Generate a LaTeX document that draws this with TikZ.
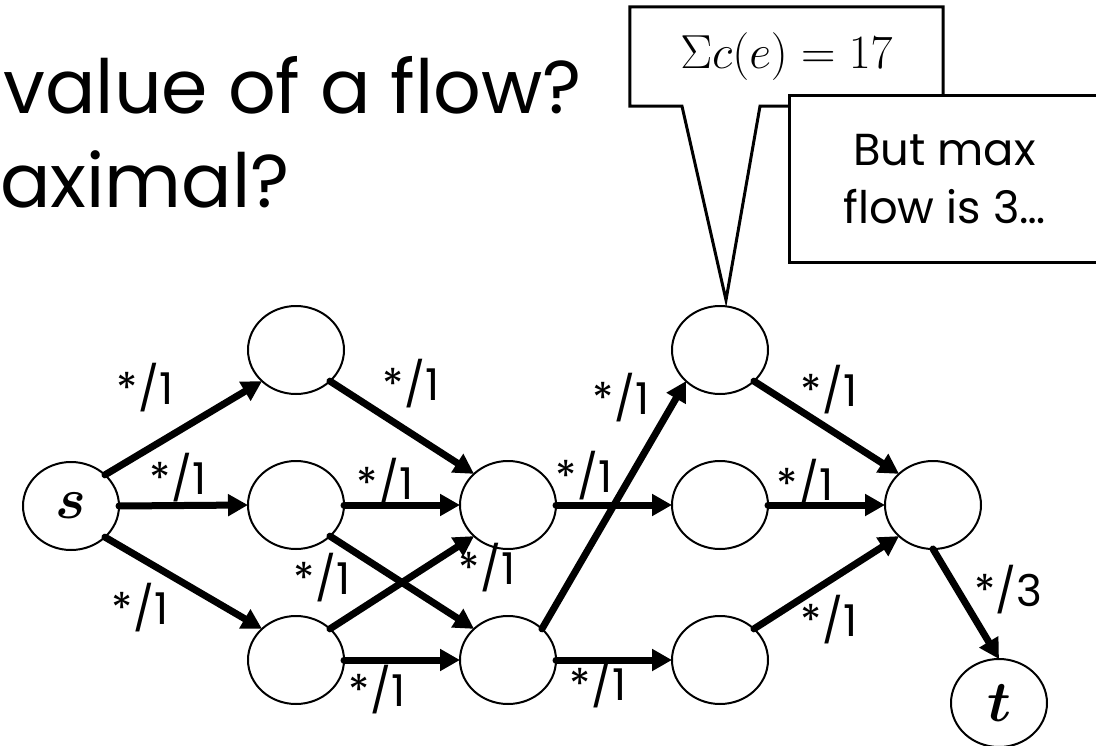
\RequirePackage{fix-cm}
\documentclass[tikz,border=0pt]{standalone}
\usepackage{amsmath}
\usepackage[no-math]{fontspec}
\setmainfont{Poppins}
\usetikzlibrary{arrows.meta,shapes.geometric,backgrounds}

\begin{document}
\begin{tikzpicture}[
  x=1bp, y=-1bp,
  vtx/.style={draw, ellipse, line width=2bp, fill=white, inner sep=0pt,
              outer sep=0pt, minimum width=96bp, minimum height=88bp},
  arr/.style={-{Triangle[length=20bp, width=21bp]}, line width=7bp,
              line cap=round},
  lbl/.style={font=\fontsize{44}{50}\selectfont, inner sep=0pt},
  ttl/.style={font=\fontsize{75}{90}\selectfont, inner sep=0pt,
              anchor=base west},
  callbox/.style={draw, line width=3bp, fill=white, inner sep=0pt,
                  align=center},
]
\def\lt#1{\fontsize{58}{60}\selectfont$\boldsymbol{#1}$}

\clip (0,0) rectangle (1096,746);

% ---------------- heading ------------------------------------------
\node[ttl] (q1) at (3,113) {value of a flow?};
\node[ttl] (q2) at (0,207) {aximal?};

% ---------------- vertices -----------------------------------------
\node[vtx] (s)  at (71,506)  {\lt{s}};
\node[vtx] (a1) at (296,350) {};
\node[vtx] (a2) at (296,505) {};
\node[vtx] (a3) at (296,660) {};
\node[vtx] (b1) at (508,505) {};
\node[vtx] (b2) at (508,660) {};
\node[vtx] (c1) at (720,350) {};
\node[vtx] (c2) at (720,505) {};
\node[vtx] (c3) at (720,660) {};
\node[vtx] (d)  at (933,505) {};
\node[vtx] (t)  at (999,703) {\lt{t}};

% ---------------- edges --------------------------------------------
\draw[arr] (s.north east) -- (a1.south west);
\draw[arr] (s.east) -- (a2.west);
\draw[arr] (s.south east) -- (a3.north west);
\draw[arr] (a1.south east) -- (b1.north west);
\draw[arr] (a2.east) -- (b1.west);
\draw[arr] (a2.south east) -- (b2.north west);
\draw[arr] (a3.north east) -- (b1.south west);
\draw[arr] (a3.east) -- (b2.west);
\draw[arr] (b1.east) -- (c2.west);
\draw[arr] (b2.north east) -- (c1.south west);
\draw[arr] (b2.east) -- (c3.west);
\draw[arr] (c1.south east) -- (d.north west);
\draw[arr] (c2.east) -- (d.west);
\draw[arr] (c3.north east) -- (d.south west);
\draw[arr] (d.south) -- (t.north);

% ---------------- capacities ---------------------------------------
\node[lbl] (w1)  at (145,388)  {*/1};
\node[lbl] (w2)  at (178,478)  {*/1};
\node[lbl] (w3)  at (140,608)  {*/1};
\node[lbl] (w4)  at (411,384)  {*/1};
\node[lbl] (w5)  at (385,483)  {*/1};
\node[lbl] (w6)  at (322,578)  {*/1};
\node[lbl] (w7)  at (487,568)  {*/1};
\node[lbl] (w8)  at (377,690)  {*/1};
\node[lbl] (w9)  at (584,476)  {*/1};
\node[lbl] (w10) at (621,398)  {*/1};
\node[lbl] (w11) at (598,684)  {*/1};
\node[lbl] (w12) at (829,390)  {*/1};
\node[lbl] (w13) at (805,484)  {*/1};
\node[lbl] (w14) at (829,620)  {*/1};
\node[lbl] (w15) at (1008,590) {*/3};

% ---------------- callouts -----------------------------------------
\node[inner sep=0pt, minimum width=313bp, minimum height=99bp,
      font=\fontsize{48}{52}\selectfont] (sumbox) at (786.5,56.5)
  {$\Sigma c(e) = 17$};
\begin{scope}[on background layer]
  \draw[line width=3bp, fill=white]
    (sumbox.south west) -- (sumbox.north west) -- (sumbox.north east)
    -- (sumbox.south east) -- ([xshift=-26.5bp]sumbox.south)
    -- ([shift={(6bp,6bp)}]c1.north) -- ([xshift=-104.5bp]sumbox.south)
    -- cycle;
\end{scope}

\node[callbox, minimum width=311bp, minimum height=166bp,
      font=\fontsize{45}{58}\selectfont] (maxbox) at (944.5,179)
  {But max\\flow is 3\ldots};

\end{tikzpicture}
\end{document}
